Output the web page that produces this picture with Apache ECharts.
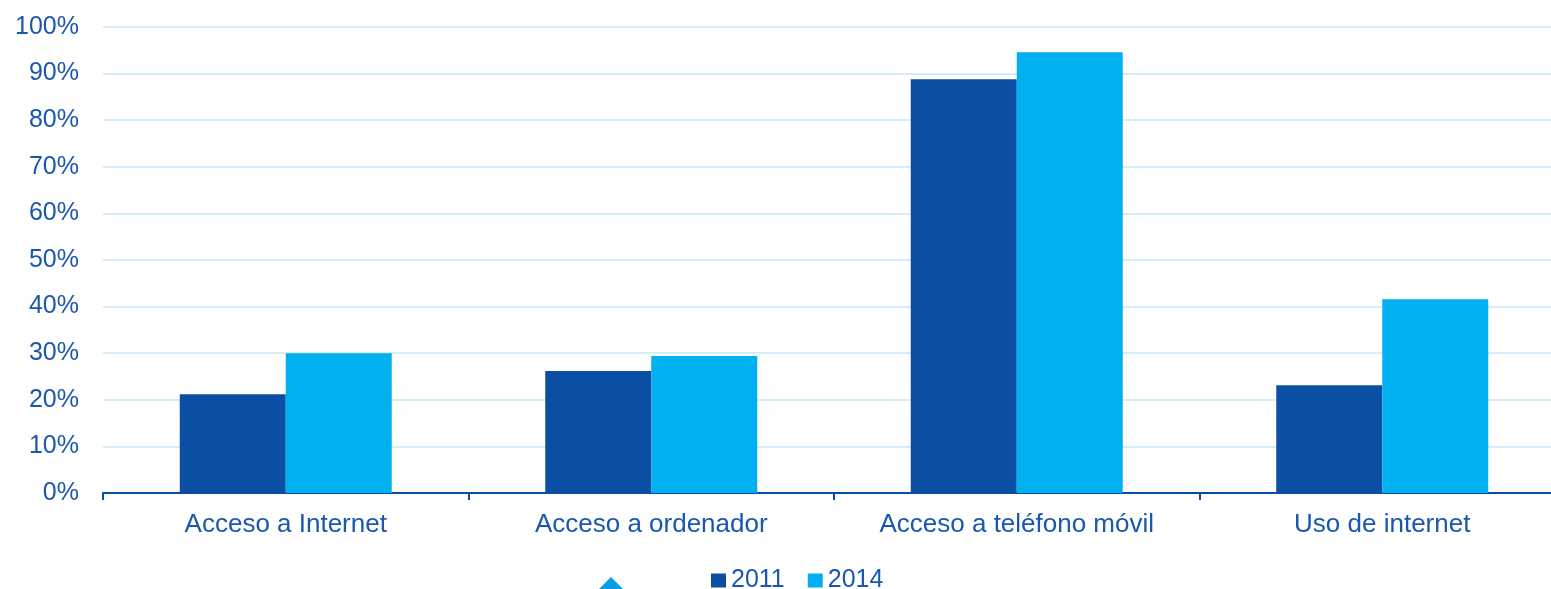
<!DOCTYPE html>
<html><head><meta charset="utf-8">
<script src="https://cdn.jsdelivr.net/npm/echarts@6/dist/echarts.min.js"></script>
<style>html,body{margin:0;padding:0;background:#fff;overflow:hidden;width:1551px;height:589px}#c{width:1565px;height:589px}</style>
</head><body><div id="c"></div>
<script>
const categories = ['Acceso a Internet', 'Acceso a ordenador', 'Acceso a teléfono móvil', 'Uso de internet'];
const values2011 = [21.2, 26.2, 88.8, 23.1];
const values2014 = [30.0, 29.4, 94.6, 41.6];
const seriesNames = ['2011', '2014'];
const textColor = '#1a57b0';
const chart = echarts.init(document.getElementById('c'));
chart.setOption({
  animation: false,
  textStyle: { fontFamily: 'Liberation Sans, Arial, sans-serif' },
  grid: { left: 103, right: 0, top: 27, height: 466, containLabel: false },
  legend: {
    data: seriesNames, left: 706, top: 563, itemWidth: 15, itemHeight: 14, itemGap: 23, itemTextGap: 5,
    icon: 'rect', textStyle: { color: textColor, fontSize: 25 }
  },
  xAxis: {
    type: 'category', data: categories,
    axisLine: { lineStyle: { color: '#0b4fa0', width: 2 } },
    axisTick: { show: true, alignWithLabel: false, length: 7, lineStyle: { color: '#0b4fa0', width: 2 } },
    axisLabel: { color: textColor, fontSize: 26, margin: 19 }
  },
  yAxis: {
    type: 'value', min: 0, max: 100, interval: 10,
    axisLabel: { color: textColor, fontSize: 25, margin: 24, formatter: '{value}%' },
    axisLine: { show: false }, axisTick: { show: false },
    splitLine: { lineStyle: { color: '#c6e7f6', width: 1.5 } }
  },
  series: [
    { name: seriesNames[0], type: 'bar', data: values2011, barGap: '0%', barCategoryGap: '42%', itemStyle: { color: '#0a4fa3' } },
    { name: seriesNames[1], type: 'bar', data: values2014, barGap: '0%', barCategoryGap: '42%', itemStyle: { color: '#00b0f0' } }
  ],
  graphic: [{
    type: 'polygon', shape: { points: [[598, 590], [611, 577], [624, 590]] },
    style: { fill: '#0a9ee0' }
  }]
});
</script></body></html>
